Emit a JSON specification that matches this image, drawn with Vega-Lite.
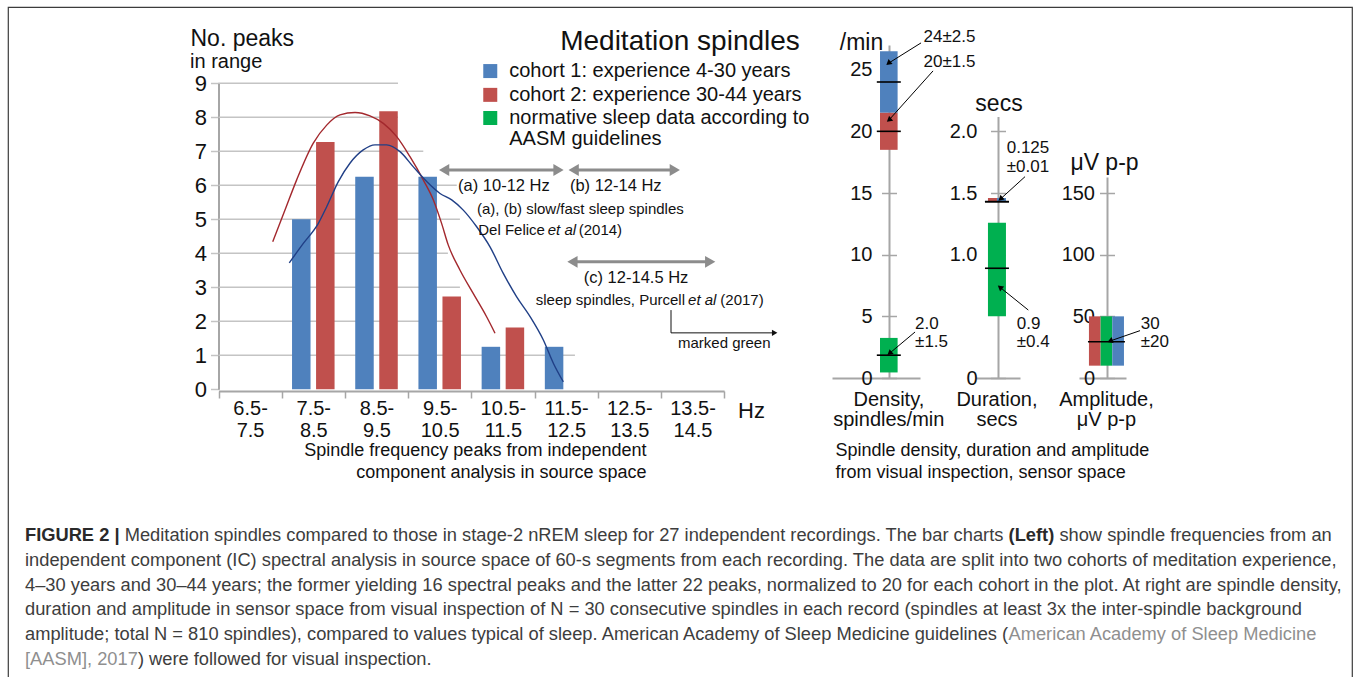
{
  "$schema": "https://vega.github.io/schema/vega-lite/v6.json",
  "width": 1344,
  "height": 670,
  "autosize": {"type": "none"},
  "padding": {"left": 8, "top": 7, "right": 5, "bottom": 0},
  "background": "white",
  "view": {"stroke": "#3c3c3c", "strokeWidth": 1.2, "strokeDash": [2014, 1344, 672], "fill": "white"},
  "title": {"text": "Meditation spindles", "anchor": "middle", "frame": "group", "fontSize": 28, "fontWeight": "normal", "font": "Liberation Sans", "color": "#111", "baseline": "middle", "offset": -63},
  "config": {
    "font": "Liberation Sans",
    "axis": {"grid": false, "labelFont": "Liberation Sans", "titleFont": "Liberation Sans", "labelColor": "#111", "titleColor": "#111", "domainColor": "#a6a6a6", "tickColor": "#a6a6a6", "titleFontWeight": "normal", "labelOverlap": false},
    "text": {"font": "Liberation Sans"}
  },
  "datasets": {
    "bars": [
      {"bin": "7.5-8.5", "cohort": "cohort 1", "peaks": 5.0},
      {"bin": "7.5-8.5", "cohort": "cohort 2", "peaks": 7.27},
      {"bin": "8.5-9.5", "cohort": "cohort 1", "peaks": 6.25},
      {"bin": "8.5-9.5", "cohort": "cohort 2", "peaks": 8.18},
      {"bin": "9.5-10.5", "cohort": "cohort 1", "peaks": 6.25},
      {"bin": "9.5-10.5", "cohort": "cohort 2", "peaks": 2.73},
      {"bin": "10.5-11.5", "cohort": "cohort 1", "peaks": 1.25},
      {"bin": "10.5-11.5", "cohort": "cohort 2", "peaks": 1.82},
      {"bin": "11.5-12.5", "cohort": "cohort 1", "peaks": 1.25}
    ],
    "grid": [
      {"peaks": 1, "hzStart": 6.5, "hzEnd": 12.14}, {"peaks": 2, "hzStart": 6.5, "hzEnd": 10.32}, {"peaks": 3, "hzStart": 6.5, "hzEnd": 10.32},
      {"peaks": 4, "hzStart": 6.5, "hzEnd": 10.13}, {"peaks": 5, "hzStart": 6.5, "hzEnd": 10.32}, {"peaks": 6, "hzStart": 6.5, "hzEnd": 10.27},
      {"peaks": 7, "hzStart": 6.5, "hzEnd": 9.74}, {"peaks": 8, "hzStart": 6.5, "hzEnd": 9.34}, {"peaks": 9, "hzStart": 6.5, "hzEnd": 9.34}
    ],
    "curves": [
      {"cohort": "cohort 2", "hz": 7.358, "peaks": 4.34}, {"cohort": "cohort 2", "hz": 7.552, "peaks": 5.27},
      {"cohort": "cohort 2", "hz": 7.737, "peaks": 6.16}, {"cohort": "cohort 2", "hz": 8.0, "peaks": 7.24},
      {"cohort": "cohort 2", "hz": 8.212, "peaks": 7.77}, {"cohort": "cohort 2", "hz": 8.422, "peaks": 8.07},
      {"cohort": "cohort 2", "hz": 8.66, "peaks": 8.14}, {"cohort": "cohort 2", "hz": 8.897, "peaks": 8.04},
      {"cohort": "cohort 2", "hz": 9.108, "peaks": 7.82}, {"cohort": "cohort 2", "hz": 9.32, "peaks": 7.43},
      {"cohort": "cohort 2", "hz": 9.53, "peaks": 6.84}, {"cohort": "cohort 2", "hz": 9.74, "peaks": 6.16},
      {"cohort": "cohort 2", "hz": 9.9, "peaks": 5.57}, {"cohort": "cohort 2", "hz": 10.03, "peaks": 4.88},
      {"cohort": "cohort 2", "hz": 10.136, "peaks": 4.24}, {"cohort": "cohort 2", "hz": 10.32, "peaks": 3.51},
      {"cohort": "cohort 2", "hz": 10.53, "peaks": 2.82}, {"cohort": "cohort 2", "hz": 10.74, "peaks": 2.14},
      {"cohort": "cohort 2", "hz": 10.875, "peaks": 1.65},
      {"cohort": "cohort 1", "hz": 7.62, "peaks": 3.72}, {"cohort": "cohort 1", "hz": 7.842, "peaks": 4.29},
      {"cohort": "cohort 1", "hz": 8.08, "peaks": 4.88}, {"cohort": "cohort 1", "hz": 8.212, "peaks": 5.37},
      {"cohort": "cohort 1", "hz": 8.396, "peaks": 6.11}, {"cohort": "cohort 1", "hz": 8.58, "peaks": 6.65},
      {"cohort": "cohort 1", "hz": 8.79, "peaks": 7.04}, {"cohort": "cohort 1", "hz": 8.976, "peaks": 7.19},
      {"cohort": "cohort 1", "hz": 9.161, "peaks": 7.19}, {"cohort": "cohort 1", "hz": 9.372, "peaks": 6.99},
      {"cohort": "cohort 1", "hz": 9.58, "peaks": 6.55}, {"cohort": "cohort 1", "hz": 9.794, "peaks": 6.11},
      {"cohort": "cohort 1", "hz": 10.005, "peaks": 5.76}, {"cohort": "cohort 1", "hz": 10.19, "peaks": 5.57},
      {"cohort": "cohort 1", "hz": 10.373, "peaks": 5.27}, {"cohort": "cohort 1", "hz": 10.585, "peaks": 4.78},
      {"cohort": "cohort 1", "hz": 10.796, "peaks": 4.19}, {"cohort": "cohort 1", "hz": 11.006, "peaks": 3.41},
      {"cohort": "cohort 1", "hz": 11.218, "peaks": 2.72}, {"cohort": "cohort 1", "hz": 11.43, "peaks": 2.14},
      {"cohort": "cohort 1", "hz": 11.64, "peaks": 1.45}, {"cohort": "cohort 1", "hz": 11.8, "peaks": 0.76},
      {"cohort": "cohort 1", "hz": 11.956, "peaks": 0.22}
    ],
    "ranges": [
      {"band": "(a) slow spindles", "from": 10.07, "to": 11.88, "peaks": 6.45},
      {"band": "(b) fast spindles", "from": 12.12, "to": 13.72, "peaks": 6.45},
      {"band": "(c) sleep spindles", "from": 12.1, "to": 14.28, "peaks": 3.75}
    ],
    "connector": [
      {"hz": 13.66, "hz2": 13.66, "peaks": 2.33, "peaks2": 1.66},
      {"hz": 13.66, "hz2": 15.3, "peaks": 1.66, "peaks2": 1.66}
    ],
    "connectorHead": [{"hz": 15.3, "peaks": 1.66}],
    "swatches": [
      {"cohort": "cohort 1", "hz": 10.8, "peaks": 9.36},
      {"cohort": "cohort 2", "hz": 10.8, "peaks": 8.66},
      {"cohort": "normative", "hz": 10.8, "peaks": 7.98}
    ],
    "notes": [
      {"role": "legend", "text": "cohort 1: experience 4-30 years", "hz": 11.1, "peaks": 9.36},
      {"role": "legend", "text": "cohort 2: experience 30-44 years", "hz": 11.1, "peaks": 8.66},
      {"role": "legend", "text": "normative sleep data according to", "hz": 11.1, "peaks": 7.98},
      {"role": "legend", "text": "AASM guidelines", "hz": 11.1, "peaks": 7.36},
      {"role": "yunit", "text": "in range", "hz": 6.05, "peaks": 9.63},
      {"role": "range", "text": "(a) 10-12 Hz", "hz": 10.29, "peaks": 5.98},
      {"role": "range", "text": "(b) 12-14 Hz", "hz": 12.06, "peaks": 5.98},
      {"role": "range", "text": "(c) 12-14.5 Hz", "hz": 12.28, "peaks": 3.27},
      {"role": "source", "text": "(a), (b) slow/fast sleep spindles", "hz": 10.59, "peaks": 5.3},
      {"role": "source", "text": "Del Felice", "hz": 10.61, "peaks": 4.69},
      {"role": "emphasis", "text": "et al", "hz": 11.71, "peaks": 4.69},
      {"role": "source", "text": "(2014)", "hz": 12.2, "peaks": 4.69},
      {"role": "source", "text": "sleep spindles, Purcell", "hz": 11.52, "peaks": 2.63},
      {"role": "emphasis", "text": "et al", "hz": 13.93, "peaks": 2.63},
      {"role": "source", "text": "(2017)", "hz": 14.44, "peaks": 2.63},
      {"role": "source", "text": "marked green", "hz": 13.77, "peaks": 1.36},
      {"role": "unit", "text": "Hz", "hz": 14.72, "peaks": -0.64}
    ],
    "density": [
      {"panel": "Density", "group": "cohort 1", "lo": 21.5, "hi": 26.5, "mean": 24},
      {"panel": "Density", "group": "cohort 2", "lo": 18.5, "hi": 21.5, "mean": 20},
      {"panel": "Density", "group": "normative", "lo": 0.45, "hi": 3.25, "mean": 1.85}
    ],
    "duration": [
      {"panel": "Duration", "group": "normative", "lo": 0.5, "hi": 1.26, "mean": 0.89},
      {"panel": "Duration", "group": "cohort 2", "lo": 1.435, "hi": 1.46, "mean": 1.43},
      {"panel": "Duration", "group": "cohort 1", "lo": 1.435, "hi": 1.46, "mean": 1.43}
    ],
    "amplitude": [
      {"panel": "Amplitude", "group": "cohort 2", "lo": 10, "hi": 50, "mean": 29.4},
      {"panel": "Amplitude", "group": "normative", "lo": 10, "hi": 50, "mean": 29.4},
      {"panel": "Amplitude", "group": "cohort 1", "lo": 10, "hi": 50, "mean": 29.4}
    ],
    "densityNotes": [
      {"text": "24±2.5", "u": 0.317, "v": 27.68},
      {"text": "20±1.5", "u": 0.317, "v": 25.65},
      {"text": "2.0", "u": 0.239, "v": 4.38},
      {"text": "±1.5", "u": 0.239, "v": 2.94}
    ],
    "densityPointers": [
      {"target": "cohort 1", "u": 0.294, "v": 27.17, "u2": -0.005, "v2": 25.52},
      {"target": "cohort 2", "u": 0.404, "v": 24.9, "u2": 0.0, "v2": 20.92},
      {"target": "normative", "u": 0.239, "v": 3.73, "u2": 0.005, "v2": 2.0}
    ],
    "durationNotes": [
      {"text": "0.125", "u": 1.08, "v": 1.863},
      {"text": "±0.01", "u": 1.08, "v": 1.709},
      {"text": "0.9", "u": 1.172, "v": 0.438},
      {"text": "±0.4", "u": 1.172, "v": 0.294}
    ],
    "durationPointers": [
      {"target": "cohorts", "u": 1.248, "v": 1.633, "u2": 1.023, "v2": 1.452},
      {"target": "normative", "u": 1.278, "v": 0.551, "u2": 1.018, "v2": 0.736}
    ],
    "amplitudeNotes": [
      {"text": "30", "u": 2.309, "v": 43.8},
      {"text": "±20", "u": 2.309, "v": 29.4}
    ],
    "amplitudePointers": [
      {"target": "all", "u": 2.303, "v": 38.4, "u2": 2.028, "v2": 30.0}
    ],
    "caption": [
      {"line": 1, "part": "lead", "text": "FIGURE 2 |"},
      {"line": 1, "part": "body1", "text": "Meditation spindles compared to those in stage-2 nREM sleep for 27 independent recordings. The bar charts"},
      {"line": 1, "part": "bold2", "text": "(Left)"},
      {"line": 1, "part": "body2", "text": "show spindle frequencies from an"},
      {"line": 2, "part": "start", "text": "independent component (IC) spectral analysis in source space of 60-s segments from each recording. The data are split into two cohorts of meditation experience,"},
      {"line": 3, "part": "start", "text": "4–30 years and 30–44 years; the former yielding 16 spectral peaks and the latter 22 peaks, normalized to 20 for each cohort in the plot. At right are spindle density,"},
      {"line": 4, "part": "start", "text": "duration and amplitude in sensor space from visual inspection of N = 30 consecutive spindles in each record (spindles at least 3x the inter-spindle background"},
      {"line": 5, "part": "start", "text": "amplitude; total N = 810 spindles), compared to values typical of sleep. American Academy of Sleep Medicine guidelines ("},
      {"line": 5, "part": "cite", "text": "American Academy of Sleep Medicine"},
      {"line": 6, "part": "citeStart", "text": "[AASM], 2017"},
      {"line": 6, "part": "tail", "text": ") were followed for visual inspection."}
    ]
  },
  "layer": [
    {
      "data": {"name": "grid"},
      "mark": {"type": "rule", "color": "#c4c4c4", "strokeWidth": 1.5},
      "encoding": {
        "x": {"field": "hzStart", "type": "quantitative", "scale": {"type": "linear", "domain": [6.5, 14.5], "range": [210.5, 716.1], "nice": false, "zero": false}, "axis": null},
        "x2": {"field": "hzEnd"},
        "y": {"field": "peaks", "type": "quantitative", "scale": {"type": "linear", "domain": [0, 9], "range": [382.3, 76.3], "nice": false, "zero": false}, "axis": null}
      }
    },
    {
      "data": {"name": "bars"},
      "mark": {"type": "bar"},
      "encoding": {
        "x": {
          "field": "bin", "type": "nominal",
          "scale": {"type": "band", "domain": ["6.5-7.5", "7.5-8.5", "8.5-9.5", "9.5-10.5", "10.5-11.5", "11.5-12.5", "12.5-13.5", "13.5-14.5"], "range": [210.5, 716.1], "paddingInner": 0, "paddingOuter": 0},
          "axis": {
            "orient": "bottom", "offset": -286, "labelAngle": 0,
            "labelExpr": "[slice(datum.label, 0, indexof(datum.label, '-') + 1), slice(datum.label, indexof(datum.label, '-') + 1)]",
            "labelFontSize": 20, "labelLineHeight": 22, "labelPadding": 0,
            "tickBand": "extent", "tickSize": 7, "tickWidth": 1.5, "domainWidth": 2,
            "title": ["Spindle frequency peaks from independent", "component analysis in source space"],
            "titleAlign": "right", "titleX": 638, "titleY": 59, "titleBaseline": "middle",
            "titleFontSize": 18, "titleLineHeight": 22
          }
        },
        "xOffset": {"field": "cohort", "type": "nominal", "scale": {"domain": ["cohort 1", "cohort 2"], "paddingInner": 0.23, "paddingOuter": 0.43}},
        "y": {
          "field": "peaks", "type": "quantitative",
          "scale": {"type": "linear", "domain": [0, 9], "range": [382.3, 76.3], "nice": false, "zero": false},
          "axis": {
            "orient": "left", "offset": -210.5, "values": [0, 1, 2, 3, 4, 5, 6, 7, 8, 9],
            "tickSize": 8, "tickColor": "#c4c4c4", "tickWidth": 1.5, "domainWidth": 2,
            "labelFontSize": 22, "labelPadding": 4,
            "title": "No. peaks", "titleAngle": 0, "titleAlign": "left", "titleBaseline": "middle",
            "titleX": -28.5, "titleY": 31, "titleFontSize": 23
          }
        },
        "color": {"field": "cohort", "type": "nominal", "scale": {"domain": ["cohort 1", "cohort 2", "normative"], "range": ["#4f81bd", "#c0504d", "#00b050"]}, "legend": null}
      }
    },
    {
      "data": {"name": "curves"},
      "mark": {"type": "line", "strokeWidth": 1.4, "interpolate": "monotone"},
      "encoding": {
        "x": {"field": "hz", "type": "quantitative", "scale": {"type": "linear", "domain": [6.5, 14.5], "range": [210.5, 716.1], "nice": false, "zero": false}, "axis": null},
        "y": {"field": "peaks", "type": "quantitative", "scale": {"type": "linear", "domain": [0, 9], "range": [382.3, 76.3], "nice": false, "zero": false}, "axis": null},
        "stroke": {"field": "cohort", "type": "nominal", "scale": {"domain": ["cohort 1", "cohort 2"], "range": ["#203f86", "#a3282d"]}, "legend": null}
      }
    },
    {
      "data": {"name": "ranges"},
      "mark": {"type": "rule", "color": "#8c8c8c", "strokeWidth": 3},
      "encoding": {
        "x": {"field": "from", "type": "quantitative", "scale": {"type": "linear", "domain": [6.5, 14.5], "range": [210.5, 716.1], "nice": false, "zero": false}, "axis": null},
        "x2": {"field": "to"},
        "y": {"field": "peaks", "type": "quantitative", "scale": {"type": "linear", "domain": [0, 9], "range": [382.3, 76.3], "nice": false, "zero": false}, "axis": null}
      }
    },
    {
      "data": {"name": "ranges"},
      "mark": {"type": "point", "shape": "triangle-left", "filled": true, "size": 140, "color": "#8c8c8c", "opacity": 1},
      "encoding": {
        "x": {"field": "from", "type": "quantitative", "scale": {"type": "linear", "domain": [6.5, 14.5], "range": [210.5, 716.1], "nice": false, "zero": false}, "axis": null},
        "y": {"field": "peaks", "type": "quantitative", "scale": {"type": "linear", "domain": [0, 9], "range": [382.3, 76.3], "nice": false, "zero": false}, "axis": null}
      }
    },
    {
      "data": {"name": "ranges"},
      "mark": {"type": "point", "shape": "triangle-right", "filled": true, "size": 140, "color": "#8c8c8c", "opacity": 1},
      "encoding": {
        "x": {"field": "to", "type": "quantitative", "scale": {"type": "linear", "domain": [6.5, 14.5], "range": [210.5, 716.1], "nice": false, "zero": false}, "axis": null},
        "y": {"field": "peaks", "type": "quantitative", "scale": {"type": "linear", "domain": [0, 9], "range": [382.3, 76.3], "nice": false, "zero": false}, "axis": null}
      }
    },
    {
      "data": {"name": "connector"},
      "mark": {"type": "rule", "color": "#111", "strokeWidth": 1},
      "encoding": {
        "x": {"field": "hz", "type": "quantitative", "scale": {"type": "linear", "domain": [6.5, 14.5], "range": [210.5, 716.1], "nice": false, "zero": false}, "axis": null},
        "x2": {"field": "hz2"},
        "y": {"field": "peaks", "type": "quantitative", "scale": {"type": "linear", "domain": [0, 9], "range": [382.3, 76.3], "nice": false, "zero": false}, "axis": null},
        "y2": {"field": "peaks2"}
      }
    },
    {
      "data": {"name": "connectorHead"},
      "mark": {"type": "point", "shape": "triangle-right", "filled": true, "size": 40, "color": "#111", "opacity": 1},
      "encoding": {
        "x": {"field": "hz", "type": "quantitative", "scale": {"type": "linear", "domain": [6.5, 14.5], "range": [210.5, 716.1], "nice": false, "zero": false}, "axis": null},
        "y": {"field": "peaks", "type": "quantitative", "scale": {"type": "linear", "domain": [0, 9], "range": [382.3, 76.3], "nice": false, "zero": false}, "axis": null}
      }
    },
    {
      "data": {"name": "swatches"},
      "mark": {"type": "point", "shape": "square", "filled": true, "size": 196, "opacity": 1},
      "encoding": {
        "x": {"field": "hz", "type": "quantitative", "scale": {"type": "linear", "domain": [6.5, 14.5], "range": [210.5, 716.1], "nice": false, "zero": false}, "axis": null},
        "y": {"field": "peaks", "type": "quantitative", "scale": {"type": "linear", "domain": [0, 9], "range": [382.3, 76.3], "nice": false, "zero": false}, "axis": null},
        "color": {"field": "cohort", "type": "nominal", "scale": {"domain": ["cohort 1", "cohort 2", "normative"], "range": ["#4f81bd", "#c0504d", "#00b050"]}, "legend": null}
      }
    },
    {
      "data": {"name": "notes"},
      "transform": [{"filter": "datum.role === 'legend' || datum.role === 'yunit'"}],
      "mark": {"type": "text", "align": "left", "baseline": "middle", "fontSize": 20, "color": "#111"},
      "encoding": {
        "x": {"field": "hz", "type": "quantitative", "scale": {"type": "linear", "domain": [6.5, 14.5], "range": [210.5, 716.1], "nice": false, "zero": false}, "axis": null},
        "y": {"field": "peaks", "type": "quantitative", "scale": {"type": "linear", "domain": [0, 9], "range": [382.3, 76.3], "nice": false, "zero": false}, "axis": null},
        "text": {"field": "text", "type": "nominal"}
      }
    },
    {
      "data": {"name": "notes"},
      "transform": [{"filter": "datum.role === 'range'"}],
      "mark": {"type": "text", "align": "left", "baseline": "middle", "fontSize": 16.5, "color": "#111"},
      "encoding": {
        "x": {"field": "hz", "type": "quantitative", "scale": {"type": "linear", "domain": [6.5, 14.5], "range": [210.5, 716.1], "nice": false, "zero": false}, "axis": null},
        "y": {"field": "peaks", "type": "quantitative", "scale": {"type": "linear", "domain": [0, 9], "range": [382.3, 76.3], "nice": false, "zero": false}, "axis": null},
        "text": {"field": "text", "type": "nominal"}
      }
    },
    {
      "data": {"name": "notes"},
      "transform": [{"filter": "datum.role === 'source'"}],
      "mark": {"type": "text", "align": "left", "baseline": "middle", "fontSize": 15, "color": "#111"},
      "encoding": {
        "x": {"field": "hz", "type": "quantitative", "scale": {"type": "linear", "domain": [6.5, 14.5], "range": [210.5, 716.1], "nice": false, "zero": false}, "axis": null},
        "y": {"field": "peaks", "type": "quantitative", "scale": {"type": "linear", "domain": [0, 9], "range": [382.3, 76.3], "nice": false, "zero": false}, "axis": null},
        "text": {"field": "text", "type": "nominal"}
      }
    },
    {
      "data": {"name": "notes"},
      "transform": [{"filter": "datum.role === 'emphasis'"}],
      "mark": {"type": "text", "align": "left", "baseline": "middle", "fontSize": 15, "fontStyle": "italic", "color": "#111"},
      "encoding": {
        "x": {"field": "hz", "type": "quantitative", "scale": {"type": "linear", "domain": [6.5, 14.5], "range": [210.5, 716.1], "nice": false, "zero": false}, "axis": null},
        "y": {"field": "peaks", "type": "quantitative", "scale": {"type": "linear", "domain": [0, 9], "range": [382.3, 76.3], "nice": false, "zero": false}, "axis": null},
        "text": {"field": "text", "type": "nominal"}
      }
    },
    {
      "data": {"name": "notes"},
      "transform": [{"filter": "datum.role === 'unit'"}],
      "mark": {"type": "text", "align": "left", "baseline": "middle", "fontSize": 22, "color": "#111"},
      "encoding": {
        "x": {"field": "hz", "type": "quantitative", "scale": {"type": "linear", "domain": [6.5, 14.5], "range": [210.5, 716.1], "nice": false, "zero": false}, "axis": null},
        "y": {"field": "peaks", "type": "quantitative", "scale": {"type": "linear", "domain": [0, 9], "range": [382.3, 76.3], "nice": false, "zero": false}, "axis": null},
        "text": {"field": "text", "type": "nominal"}
      }
    },
    {
      "data": {"name": "density"},
      "mark": {"type": "bar"},
      "encoding": {
        "x": {
          "field": "panel", "type": "nominal",
          "scale": {"type": "band", "domain": ["Density"], "range": [824, 912], "paddingInner": 0.5, "paddingOuter": 1, "align": 0.682},
          "axis": {
            "orient": "bottom", "offset": -299, "domainWidth": 2, "ticks": false, "labelAngle": 0,
            "labelExpr": "['Density,', 'spindles/min']", "labelFontSize": 20, "labelLineHeight": 20, "labelPadding": 11,
            "title": ["Spindle density, duration and amplitude", "from visual inspection, sensor space"],
            "titleAlign": "left", "titleX": 827, "titleY": 72, "titleBaseline": "middle", "titleFontSize": 18, "titleLineHeight": 22
          }
        },
        "y": {
          "field": "lo", "type": "quantitative",
          "scale": {"type": "linear", "domain": [0, 27], "range": [371, 38], "nice": false, "zero": false},
          "axis": {"orient": "left", "offset": -888.5, "domain": false, "values": [0, 5, 10, 15, 20, 25], "tickSize": 15, "tickWidth": 1.5, "labelFontSize": 20, "labelPadding": 9.5, "title": null}
        },
        "y2": {"field": "hi"},
        "color": {"field": "group", "type": "nominal", "scale": {"domain": ["cohort 1", "cohort 2", "normative"], "range": ["#4f81bd", "#c0504d", "#00b050"]}, "legend": null}
      }
    },
    {
      "data": {"name": "density"},
      "mark": {"type": "tick", "orient": "horizontal", "size": 24, "thickness": 1.6, "color": "#000", "opacity": 1},
      "encoding": {
        "x": {"field": "panel", "type": "nominal", "scale": {"type": "band", "domain": ["Density"], "range": [824, 912], "paddingInner": 0.5, "paddingOuter": 1, "align": 0.682}, "axis": null},
        "y": {
          "field": "mean", "type": "quantitative",
          "scale": {"type": "linear", "domain": [0, 27], "range": [371, 38], "nice": false, "zero": false},
          "axis": {"orient": "left", "offset": -881, "domain": true, "domainWidth": 2, "ticks": false, "labels": false,
            "title": "/min", "titleAngle": 0, "titleAlign": "center", "titleBaseline": "middle", "titleX": -28, "titleY": 35, "titleFontSize": 23}
        }
      }
    },
    {
      "data": {"name": "densityNotes"},
      "mark": {"type": "text", "align": "left", "baseline": "middle", "fontSize": 17, "color": "#111"},
      "encoding": {
        "x": {"field": "u", "type": "quantitative", "scale": {"type": "linear", "domain": [0, 2], "range": [881, 1099], "nice": false, "zero": false}, "axis": null},
        "y": {"field": "v", "type": "quantitative", "scale": {"type": "linear", "domain": [0, 27], "range": [371, 38], "nice": false, "zero": false}, "axis": null},
        "text": {"field": "text", "type": "nominal"}
      }
    },
    {
      "data": {"name": "densityPointers"},
      "mark": {"type": "rule", "color": "#000", "strokeWidth": 1},
      "encoding": {
        "x": {"field": "u", "type": "quantitative", "scale": {"type": "linear", "domain": [0, 2], "range": [881, 1099], "nice": false, "zero": false}, "axis": null},
        "x2": {"field": "u2"},
        "y": {"field": "v", "type": "quantitative", "scale": {"type": "linear", "domain": [0, 27], "range": [371, 38], "nice": false, "zero": false}, "axis": null},
        "y2": {"field": "v2"}
      }
    },
    {
      "data": {"name": "densityPointers"},
      "mark": {"type": "point", "shape": "triangle-right", "angle": 140, "filled": true, "size": 40, "color": "#000", "opacity": 1},
      "encoding": {
        "x": {"field": "u2", "type": "quantitative", "scale": {"type": "linear", "domain": [0, 2], "range": [881, 1099], "nice": false, "zero": false}, "axis": null},
        "y": {"field": "v2", "type": "quantitative", "scale": {"type": "linear", "domain": [0, 27], "range": [371, 38], "nice": false, "zero": false}, "axis": null}
      }
    },
    {
      "data": {"name": "duration"},
      "transform": [{"filter": "datum.group === 'normative'"}],
      "mark": {"type": "bar"},
      "encoding": {
        "x": {
          "field": "panel", "type": "nominal",
          "scale": {"type": "band", "domain": ["Duration"], "range": [968, 1012], "paddingInner": 0, "paddingOuter": 0.722, "align": 0.46},
          "axis": {"orient": "bottom", "offset": -299, "domainWidth": 2, "ticks": false, "labelAngle": 0,
            "labelExpr": "['Duration,', 'secs']", "labelFontSize": 20, "labelLineHeight": 20, "labelPadding": 11, "title": null}
        },
        "y": {
          "field": "lo", "type": "quantitative",
          "scale": {"type": "linear", "domain": [0, 2.12], "range": [371, 109.6], "nice": false, "zero": false},
          "axis": {"orient": "left", "offset": -997.5, "domain": false, "values": [0, 1, 1.5, 2], "tickSize": 15, "tickWidth": 1.5,
            "labelExpr": "datum.value == 0 ? '0' : format(datum.value, '.1f')", "labelFontSize": 20, "labelPadding": 13.5, "title": null}
        },
        "y2": {"field": "hi"},
        "color": {"field": "group", "type": "nominal", "scale": {"domain": ["cohort 1", "cohort 2", "normative"], "range": ["#4f81bd", "#c0504d", "#00b050"]}, "legend": null}
      }
    },
    {
      "data": {"name": "duration"},
      "transform": [{"filter": "datum.group !== 'normative'"}],
      "mark": {"type": "bar"},
      "encoding": {
        "x": {"field": "panel", "type": "nominal", "scale": {"type": "band", "domain": ["Duration"], "range": [968, 1012], "paddingInner": 0, "paddingOuter": 0.722, "align": 0.46}, "axis": null},
        "xOffset": {"field": "group", "type": "nominal", "scale": {"domain": ["cohort 2", "cohort 1"], "paddingInner": 0, "paddingOuter": 0}},
        "y": {"field": "lo", "type": "quantitative", "scale": {"type": "linear", "domain": [0, 2.12], "range": [371, 109.6], "nice": false, "zero": false}, "axis": null},
        "y2": {"field": "hi"},
        "color": {"field": "group", "type": "nominal", "scale": {"domain": ["cohort 1", "cohort 2", "normative"], "range": ["#4f81bd", "#c0504d", "#00b050"]}, "legend": null}
      }
    },
    {
      "data": {"name": "duration"},
      "mark": {"type": "tick", "orient": "horizontal", "size": 24, "thickness": 1.6, "color": "#000", "opacity": 1},
      "encoding": {
        "x": {"field": "panel", "type": "nominal", "scale": {"type": "band", "domain": ["Duration"], "range": [968, 1012], "paddingInner": 0, "paddingOuter": 0.722, "align": 0.46}, "axis": null},
        "y": {
          "field": "mean", "type": "quantitative",
          "scale": {"type": "linear", "domain": [0, 2.12], "range": [371, 109.6], "nice": false, "zero": false},
          "axis": {"orient": "left", "offset": -990, "domain": true, "domainWidth": 2, "ticks": false, "labels": false,
            "title": "secs", "titleAngle": 0, "titleAlign": "center", "titleBaseline": "middle", "titleX": 0.5, "titleY": 96, "titleFontSize": 23}
        }
      }
    },
    {
      "data": {"name": "durationNotes"},
      "mark": {"type": "text", "align": "left", "baseline": "middle", "fontSize": 17, "color": "#111"},
      "encoding": {
        "x": {"field": "u", "type": "quantitative", "scale": {"type": "linear", "domain": [0, 2], "range": [881, 1099], "nice": false, "zero": false}, "axis": null},
        "y": {"field": "v", "type": "quantitative", "scale": {"type": "linear", "domain": [0, 2.12], "range": [371, 109.6], "nice": false, "zero": false}, "axis": null},
        "text": {"field": "text", "type": "nominal"}
      }
    },
    {
      "data": {"name": "durationPointers"},
      "mark": {"type": "rule", "color": "#000", "strokeWidth": 1},
      "encoding": {
        "x": {"field": "u", "type": "quantitative", "scale": {"type": "linear", "domain": [0, 2], "range": [881, 1099], "nice": false, "zero": false}, "axis": null},
        "x2": {"field": "u2"},
        "y": {"field": "v", "type": "quantitative", "scale": {"type": "linear", "domain": [0, 2.12], "range": [371, 109.6], "nice": false, "zero": false}, "axis": null},
        "y2": {"field": "v2"}
      }
    },
    {
      "data": {"name": "durationPointers"},
      "transform": [{"filter": "datum.target === 'cohorts'"}],
      "mark": {"type": "point", "shape": "triangle-right", "angle": 138, "filled": true, "size": 40, "color": "#000", "opacity": 1},
      "encoding": {
        "x": {"field": "u2", "type": "quantitative", "scale": {"type": "linear", "domain": [0, 2], "range": [881, 1099], "nice": false, "zero": false}, "axis": null},
        "y": {"field": "v2", "type": "quantitative", "scale": {"type": "linear", "domain": [0, 2.12], "range": [371, 109.6], "nice": false, "zero": false}, "axis": null}
      }
    },
    {
      "data": {"name": "durationPointers"},
      "transform": [{"filter": "datum.target === 'normative'"}],
      "mark": {"type": "point", "shape": "triangle-right", "angle": 219, "filled": true, "size": 40, "color": "#000", "opacity": 1},
      "encoding": {
        "x": {"field": "u2", "type": "quantitative", "scale": {"type": "linear", "domain": [0, 2], "range": [881, 1099], "nice": false, "zero": false}, "axis": null},
        "y": {"field": "v2", "type": "quantitative", "scale": {"type": "linear", "domain": [0, 2.12], "range": [371, 109.6], "nice": false, "zero": false}, "axis": null}
      }
    },
    {
      "data": {"name": "amplitude"},
      "mark": {"type": "bar"},
      "encoding": {
        "x": {
          "field": "panel", "type": "nominal",
          "scale": {"type": "band", "domain": ["Amplitude"], "range": [1071, 1118], "paddingInner": 0, "paddingOuter": 0.171, "align": 0.83},
          "axis": {"orient": "bottom", "offset": -299, "domainWidth": 2, "ticks": false, "labelAngle": 0,
            "labelExpr": "['Amplitude,', 'μV p-p']", "labelFontSize": 20, "labelLineHeight": 20, "labelPadding": 11, "title": null}
        },
        "xOffset": {"field": "group", "type": "nominal", "scale": {"domain": ["cohort 2", "normative", "cohort 1"], "paddingInner": 0, "paddingOuter": 0}},
        "y": {
          "field": "lo", "type": "quantitative",
          "scale": {"type": "linear", "domain": [0, 163], "range": [371, 170], "nice": false, "zero": false},
          "axis": {"orient": "left", "offset": -1106.5, "domain": false, "values": [0, 50, 100, 150], "tickSize": 15, "tickWidth": 1.5, "labelFontSize": 20, "labelPadding": 5, "title": null}
        },
        "y2": {"field": "hi"},
        "color": {"field": "group", "type": "nominal", "scale": {"domain": ["cohort 1", "cohort 2", "normative"], "range": ["#4f81bd", "#c0504d", "#00b050"]}, "legend": null}
      }
    },
    {
      "data": {"name": "amplitude"},
      "transform": [{"filter": "datum.group === 'normative'"}],
      "mark": {"type": "tick", "orient": "horizontal", "size": 37, "thickness": 1.6, "color": "#000", "opacity": 1},
      "encoding": {
        "x": {"field": "panel", "type": "nominal", "scale": {"type": "band", "domain": ["Amplitude"], "range": [1071, 1118], "paddingInner": 0, "paddingOuter": 0.171, "align": 0.83}, "axis": null},
        "y": {
          "field": "mean", "type": "quantitative",
          "scale": {"type": "linear", "domain": [0, 163], "range": [371, 170], "nice": false, "zero": false},
          "axis": {"orient": "left", "offset": -1099, "domain": true, "domainWidth": 2, "ticks": false, "labels": false,
            "title": "μV p-p", "titleAngle": 0, "titleAlign": "center", "titleBaseline": "middle", "titleX": -3, "titleY": 155, "titleFontSize": 23}
        }
      }
    },
    {
      "data": {"name": "amplitudeNotes"},
      "mark": {"type": "text", "align": "left", "baseline": "middle", "fontSize": 17, "color": "#111"},
      "encoding": {
        "x": {"field": "u", "type": "quantitative", "scale": {"type": "linear", "domain": [0, 2], "range": [881, 1099], "nice": false, "zero": false}, "axis": null},
        "y": {"field": "v", "type": "quantitative", "scale": {"type": "linear", "domain": [0, 163], "range": [371, 170], "nice": false, "zero": false}, "axis": null},
        "text": {"field": "text", "type": "nominal"}
      }
    },
    {
      "data": {"name": "amplitudePointers"},
      "mark": {"type": "rule", "color": "#000", "strokeWidth": 1},
      "encoding": {
        "x": {"field": "u", "type": "quantitative", "scale": {"type": "linear", "domain": [0, 2], "range": [881, 1099], "nice": false, "zero": false}, "axis": null},
        "x2": {"field": "u2"},
        "y": {"field": "v", "type": "quantitative", "scale": {"type": "linear", "domain": [0, 163], "range": [371, 170], "nice": false, "zero": false}, "axis": null},
        "y2": {"field": "v2"}
      }
    },
    {
      "data": {"name": "amplitudePointers"},
      "mark": {"type": "point", "shape": "triangle-right", "angle": 161, "filled": true, "size": 40, "color": "#000", "opacity": 1},
      "encoding": {
        "x": {"field": "u2", "type": "quantitative", "scale": {"type": "linear", "domain": [0, 2], "range": [881, 1099], "nice": false, "zero": false}, "axis": null},
        "y": {"field": "v2", "type": "quantitative", "scale": {"type": "linear", "domain": [0, 163], "range": [371, 170], "nice": false, "zero": false}, "axis": null}
      }
    },
    {
      "data": {"name": "caption"},
      "transform": [{"filter": "datum.part === 'start'"}],
      "mark": {"type": "text", "align": "left", "baseline": "middle", "fontSize": 18.3, "color": "#3d3d3d"},
      "encoding": {
        "x": {"datum": 0, "type": "quantitative", "scale": {"type": "linear", "domain": [0, 1], "range": [17, 1322], "nice": false, "zero": false}, "axis": null},
        "y": {"field": "line", "type": "quantitative", "scale": {"type": "linear", "domain": [1, 6], "range": [529, 653], "nice": false, "zero": false}, "axis": null},
        "text": {"field": "text", "type": "nominal"}
      }
    },
    {
      "data": {"name": "caption"},
      "transform": [{"filter": "datum.part === 'lead'"}],
      "mark": {"type": "text", "align": "left", "baseline": "middle", "fontSize": 18.3, "fontWeight": "bold", "color": "#2a2a2a"},
      "encoding": {
        "x": {"datum": 0, "type": "quantitative", "scale": {"type": "linear", "domain": [0, 1], "range": [17, 1322], "nice": false, "zero": false}, "axis": null},
        "y": {"field": "line", "type": "quantitative", "scale": {"type": "linear", "domain": [1, 6], "range": [529, 653], "nice": false, "zero": false}, "axis": null},
        "text": {"field": "text", "type": "nominal"}
      }
    },
    {
      "data": {"name": "caption"},
      "transform": [{"filter": "datum.part === 'citeStart'"}],
      "mark": {"type": "text", "align": "left", "baseline": "middle", "fontSize": 18.3, "color": "#8f8f8f"},
      "encoding": {
        "x": {"datum": 0, "type": "quantitative", "scale": {"type": "linear", "domain": [0, 1], "range": [17, 1322], "nice": false, "zero": false}, "axis": null},
        "y": {"field": "line", "type": "quantitative", "scale": {"type": "linear", "domain": [1, 6], "range": [529, 653], "nice": false, "zero": false}, "axis": null},
        "text": {"field": "text", "type": "nominal"}
      }
    },
    {
      "data": {"name": "caption"},
      "transform": [{"filter": "datum.part === 'body1'"}],
      "mark": {"type": "text", "align": "left", "baseline": "middle", "fontSize": 18.3, "color": "#3d3d3d", "dx": 99.7},
      "encoding": {
        "x": {"datum": 0, "type": "quantitative", "scale": {"type": "linear", "domain": [0, 1], "range": [17, 1322], "nice": false, "zero": false}, "axis": null},
        "y": {"field": "line", "type": "quantitative", "scale": {"type": "linear", "domain": [1, 6], "range": [529, 653], "nice": false, "zero": false}, "axis": null},
        "text": {"field": "text", "type": "nominal"}
      }
    },
    {
      "data": {"name": "caption"},
      "transform": [{"filter": "datum.part === 'bold2'"}],
      "mark": {"type": "text", "align": "left", "baseline": "middle", "fontSize": 18.3, "fontWeight": "bold", "color": "#2a2a2a", "dx": 983.6},
      "encoding": {
        "x": {"datum": 0, "type": "quantitative", "scale": {"type": "linear", "domain": [0, 1], "range": [17, 1322], "nice": false, "zero": false}, "axis": null},
        "y": {"field": "line", "type": "quantitative", "scale": {"type": "linear", "domain": [1, 6], "range": [529, 653], "nice": false, "zero": false}, "axis": null},
        "text": {"field": "text", "type": "nominal"}
      }
    },
    {
      "data": {"name": "caption"},
      "transform": [{"filter": "datum.part === 'body2'"}],
      "mark": {"type": "text", "align": "left", "baseline": "middle", "fontSize": 18.3, "color": "#3d3d3d", "dx": 1034.4},
      "encoding": {
        "x": {"datum": 0, "type": "quantitative", "scale": {"type": "linear", "domain": [0, 1], "range": [17, 1322], "nice": false, "zero": false}, "axis": null},
        "y": {"field": "line", "type": "quantitative", "scale": {"type": "linear", "domain": [1, 6], "range": [529, 653], "nice": false, "zero": false}, "axis": null},
        "text": {"field": "text", "type": "nominal"}
      }
    },
    {
      "data": {"name": "caption"},
      "transform": [{"filter": "datum.part === 'cite'"}],
      "mark": {"type": "text", "align": "left", "baseline": "middle", "fontSize": 18.3, "color": "#8f8f8f", "dx": 983.5},
      "encoding": {
        "x": {"datum": 0, "type": "quantitative", "scale": {"type": "linear", "domain": [0, 1], "range": [17, 1322], "nice": false, "zero": false}, "axis": null},
        "y": {"field": "line", "type": "quantitative", "scale": {"type": "linear", "domain": [1, 6], "range": [529, 653], "nice": false, "zero": false}, "axis": null},
        "text": {"field": "text", "type": "nominal"}
      }
    },
    {
      "data": {"name": "caption"},
      "transform": [{"filter": "datum.part === 'tail'"}],
      "mark": {"type": "text", "align": "left", "baseline": "middle", "fontSize": 18.3, "color": "#3d3d3d", "dx": 112.9},
      "encoding": {
        "x": {"datum": 0, "type": "quantitative", "scale": {"type": "linear", "domain": [0, 1], "range": [17, 1322], "nice": false, "zero": false}, "axis": null},
        "y": {"field": "line", "type": "quantitative", "scale": {"type": "linear", "domain": [1, 6], "range": [529, 653], "nice": false, "zero": false}, "axis": null},
        "text": {"field": "text", "type": "nominal"}
      }
    }
  ],
  "resolve": {
    "scale": {"x": "independent", "y": "independent", "color": "independent", "xOffset": "independent", "stroke": "independent"},
    "axis": {"x": "independent", "y": "independent"}
  }
}
